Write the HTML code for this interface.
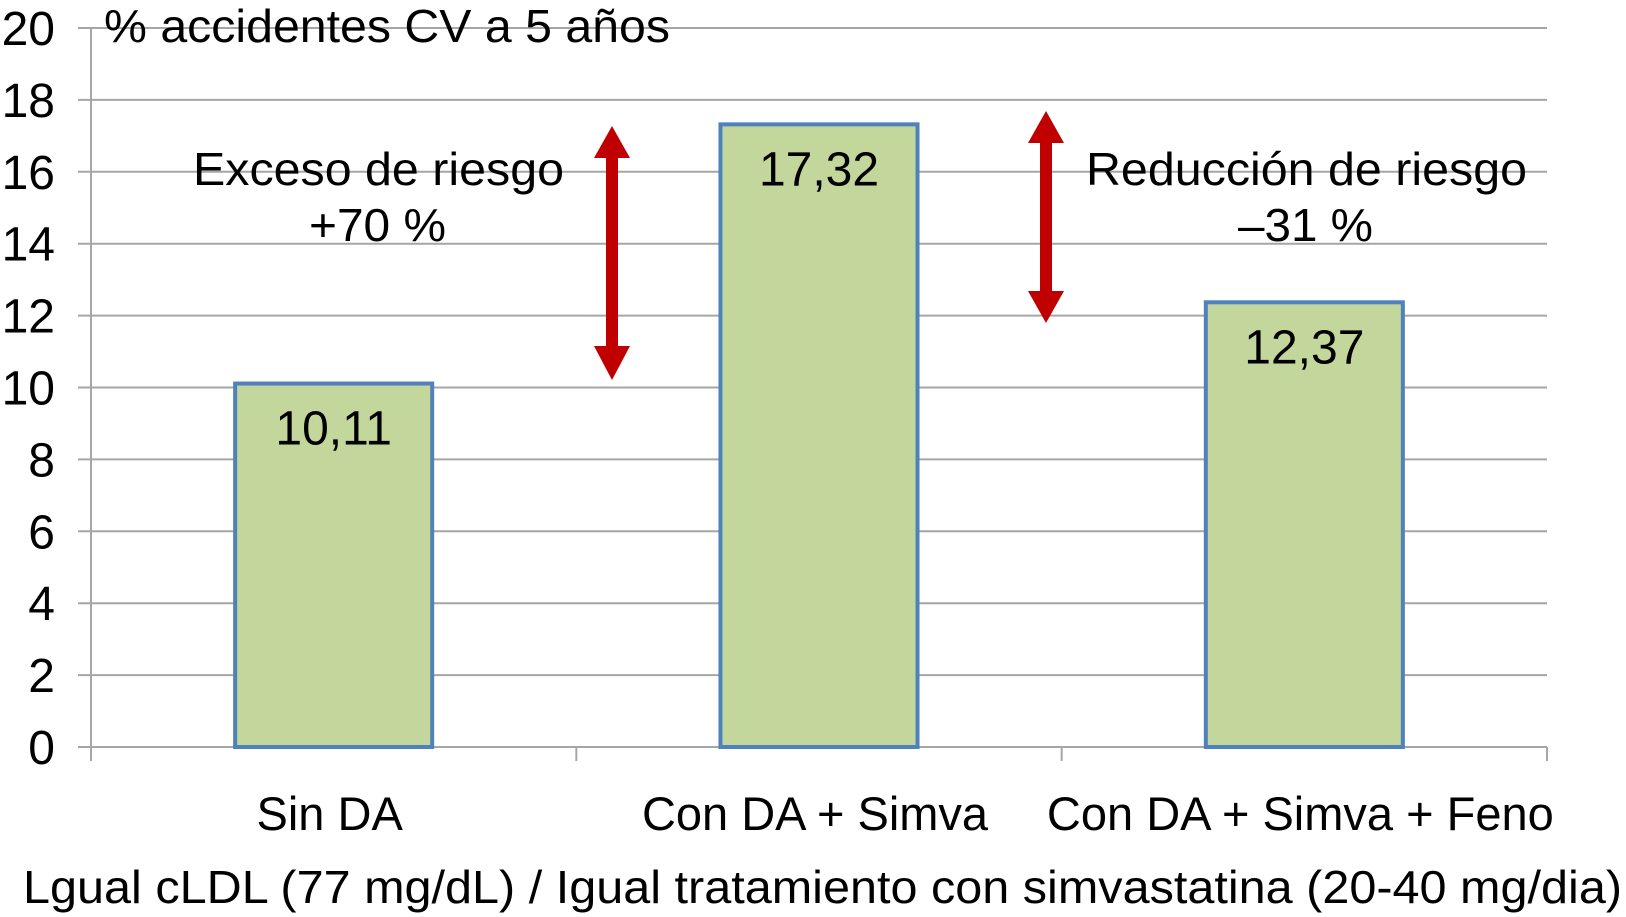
<!DOCTYPE html>
<html><head><meta charset="utf-8"><style>
html,body{margin:0;padding:0;background:#fff}
svg{display:block}
text{font-family:"Liberation Sans",Arial,sans-serif;fill:#000}
</style></head><body>
<svg id="chart" width="1626" height="917" viewBox="0 0 1626 917" xmlns="http://www.w3.org/2000/svg">
<g id="grid"></g>
<g id="bars"></g>
<g id="labels"></g>
<text x="104" y="42" font-size="46" textLength="566" lengthAdjust="spacingAndGlyphs">% accidentes CV a 5 años</text>
<text x="193" y="185" font-size="46" textLength="371" lengthAdjust="spacingAndGlyphs">Exceso de riesgo</text>
<text x="309" y="241" font-size="46" textLength="137" lengthAdjust="spacingAndGlyphs">+70 %</text>
<text x="1086" y="185" font-size="46" textLength="441" lengthAdjust="spacingAndGlyphs">Reducción de riesgo</text>
<text x="1238" y="241" font-size="46" textLength="135" lengthAdjust="spacingAndGlyphs">–31 %</text>
<text x="23" y="903" font-size="46" textLength="1599" lengthAdjust="spacingAndGlyphs">Lgual cLDL (77 mg/dL) / Igual tratamiento con simvastatina (20-40 mg/dia)</text>
<g fill="#c00000">
<rect x="606" y="156" width="12" height="192"/>
<polygon points="612,126 594,158 630,158"/>
<polygon points="612,380 594,346 630,346"/>
</g>
<g fill="#c00000">
<rect x="1040" y="141" width="12" height="152"/>
<polygon points="1046,111 1028,143 1064,143"/>
<polygon points="1046,323 1028,291 1064,291"/>
</g>
</svg>
<script>
const categories = ["Sin DA", "Con DA + Simva", "Con DA + Simva + Feno"];
const values = [10.11, 17.32, 12.37];
const valueLabels = ["10,11", "17,32", "12,37"];
const yTicks = [0, 2, 4, 6, 8, 10, 12, 14, 16, 18, 20];

const NS = "http://www.w3.org/2000/svg";
const plotL = 91, plotR = 1547, y0 = 747, yTop = 28, yMax = 20;
const catW = (plotR - plotL) / categories.length;
const barW = catW * 0.406;
function yScale(v){ return y0 - (v / yMax) * (y0 - yTop); }
function xCenter(i){ return plotL + catW * (i + 0.5); }
function mk(tag, attrs, parent){
  const e = document.createElementNS(NS, tag);
  for (const k in attrs) e.setAttribute(k, attrs[k]);
  parent.appendChild(e);
  return e;
}
const grid = document.getElementById('grid');
const bars = document.getElementById('bars');
const labels = document.getElementById('labels');

yTicks.forEach(t => {
  const y = yScale(t);
  const l = mk('line', {x1: 78, x2: plotR, y1: y, y2: y, stroke: '#a6a6a6', 'stroke-width': 2}, grid);
  
  
  const tx = mk('text', {x: 55, y: y + 17, 'font-size': 48, 'text-anchor': 'end'}, labels);
  tx.textContent = t;
  
  
});
const ax = mk('line', {x1: plotL, x2: plotL, y1: yTop, y2: y0 + 14, stroke: '#a6a6a6', 'stroke-width': 2}, grid);


for (let i = 0; i <= categories.length; i++) {
  const x = plotL + catW * i;
  const tk = mk('line', {x1: x, x2: x, y1: y0, y2: y0 + 14, stroke: '#a6a6a6', 'stroke-width': 2}, grid);
  
  
}
categories.forEach((c, i) => {
  const cx = xCenter(i);
  const top = yScale(values[i]);
  const r = mk('rect', {x: cx - barW / 2, y: top, width: barW, height: y0 - top, fill: '#c3d69b', stroke: '#4f81bd', 'stroke-width': 4}, bars);
  
  
  const v = mk('text', {x: cx, y: top + 61, 'font-size': 48, 'text-anchor': 'middle'}, labels);
  v.textContent = valueLabels[i];
  
  
  const cl = mk('text', {x: cx - 4, y: 830, 'font-size': 47, 'text-anchor': 'middle'}, labels);
  cl.textContent = c;
  
  
});
</script>
</body></html>
